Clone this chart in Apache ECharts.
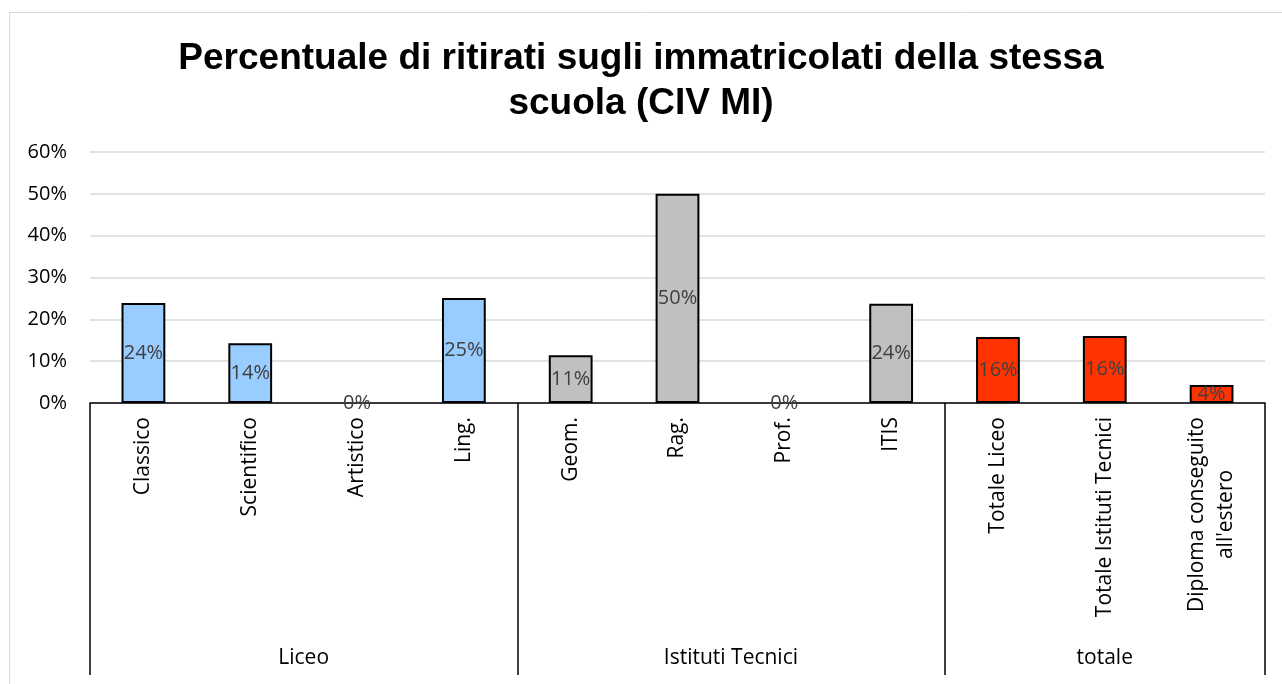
<!DOCTYPE html>
<html>
<head>
<meta charset="utf-8">
<script src="https://cdn.jsdelivr.net/npm/echarts@6/dist/echarts.min.js"></script>
<style>html,body{margin:0;padding:0;background:#fff;}#c{width:1282px;height:684px;}</style>
</head>
<body>
<div id="c"></div>
<script>
const categories = ["Classico", "Scientifico", "Artistico", "Ling.", "Geom.", "Rag.", "Prof.", "ITIS", "Totale Liceo", "Totale Istituti Tecnici", "Diploma conseguito\nall'estero"];
const values = [0.239, 0.143, 0, 0.251, 0.114, 0.50, 0, 0.237, 0.158, 0.160, 0.043];
const barColors = ["#99CCFF", "#99CCFF", "#99CCFF", "#99CCFF", "#C0C0C0", "#C0C0C0", "#C0C0C0", "#C0C0C0", "#FF3300", "#FF3300", "#FF3300"];
const groupNames = ["Liceo", "Istituti Tecnici", "totale"];
const groupBounds = [0, 4, 8, 11];
const groupCenters = [2, 6, 9.5];
const yTicks = [0, 0.1, 0.2, 0.3, 0.4, 0.5, 0.6];

const FONT = "Open Sans";
const chart = echarts.init(document.getElementById('c'));
const pct = v => Math.round(v * 100) + '%';

chart.setOption({
  animation: false,
  backgroundColor: '#fff',
  title: {
    text: 'Percentuale di ritirati sugli immatricolati della stessa\nscuola (CIV MI)',
    left: 'center',
    top: 31,
    textStyle: { fontFamily: 'Liberation Sans', fontWeight: 'bold', fontSize: 37, lineHeight: 45, color: '#000' }
  },
  graphic: [{
    type: 'rect', shape: { x: 9.5, y: 12.5, width: 1300, height: 700 },
    style: { fill: null, stroke: '#d9d9d9', lineWidth: 1 }, silent: true, z: -1
  }],
  grid: { left: 90, right: 17, top: 152, bottom: 281 },
  xAxis: [{
    type: 'category',
    data: categories,
    axisLine: { lineStyle: { color: '#000', width: 1.5 } },
    axisTick: { show: false },
    axisLabel: {
      interval: 0, rotate: 90, margin: 14,
      fontFamily: FONT, fontSize: 21, color: '#000',
      formatter: v => v.split('\n').map(s => '{c|' + s + '}').join('\n'),
      rich: { c: { align: 'center', fontFamily: FONT, fontSize: 21, color: '#000', lineHeight: 29 } }
    }
  }, {
    type: 'value', min: 0, max: 11, position: 'bottom',
    axisLine: { show: false },
    splitLine: { show: false },
    axisTick: { show: true, customValues: groupBounds, length: 272, inside: false, lineStyle: { color: '#000', width: 1.5 } },
    axisLabel: {
      customValues: groupCenters, margin: 245,
      fontFamily: FONT, fontSize: 21, color: '#000',
      formatter: v => groupNames[groupCenters.indexOf(v)]
    }
  }],
  yAxis: {
    type: 'value', min: 0, max: 0.6, interval: 0.1,
    axisLine: { show: false }, axisTick: { show: false },
    splitLine: { lineStyle: { color: '#d9d9d9', width: 1.5 } },
    axisLabel: { formatter: pct, fontFamily: FONT, fontSize: 20, color: '#000', margin: 23,
      customValues: yTicks }
  },
  series: [{
    type: 'bar',
    xAxisIndex: 0,
    barWidth: '41%',
    data: values.map((v, i) => ({ value: v, itemStyle: { color: barColors[i], borderWidth: v > 0 ? 2 : 0 } })),
    itemStyle: { borderColor: '#000', borderWidth: 2 },
    label: {
      show: true, position: 'inside', formatter: p => pct(p.value),
      fontFamily: FONT, fontSize: 20, color: '#404040'
    }
  }]
});
</script>
</body>
</html>
